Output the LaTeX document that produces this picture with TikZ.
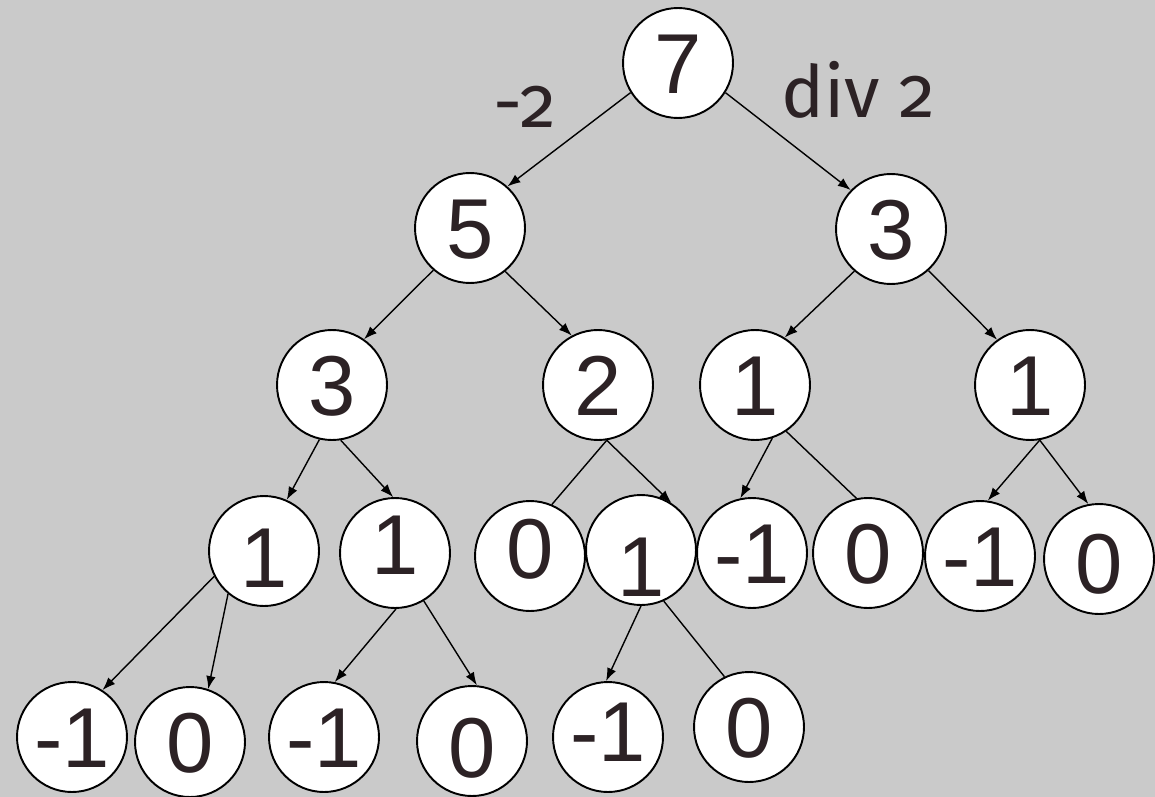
\documentclass[tikz,border=0pt]{standalone}
\usepackage{fontspec}
\setmainfont{Liberation Sans}
\newfontfamily\labelfont[Numbers=OldStyle]{Fira Sans}
\usetikzlibrary{arrows.meta}
\definecolor{bgc}{RGB}{202,202,202}
\definecolor{ink}{RGB}{44,34,37}
\tikzset{
  num/.style={circle, draw=black, line width=1.1pt, fill=white, minimum size=2.2cm, inner sep=0pt,
    text=ink, font=\fontsize{48.4pt}{50pt}\selectfont, text height=1.22cm, text depth=0pt},
  edge/.style={line width=0.8pt, draw=black, -{Latex[length=0.26cm,width=0.19cm]}},
  plain/.style={line width=0.8pt, draw=black},
  oplabel/.style={text=ink, font=\labelfont\fontsize{41pt}{43pt}\selectfont, anchor=base, inner sep=0pt}
}
\newcommand{\up}[2]{\raisebox{#1}{#2}}
\begin{document}
\begin{tikzpicture}[x=0.02cm, y=-0.02cm]
\fill[bgc] (0,0) rectangle (1155,797);
\useasboundingbox (0,0) rectangle (1155,797);
% level 1
\node[num] (n7) at (678,63) {7};
% level 2
\node[num] (n5) at (470,228) {5};
\node[num] (n3r) at (891,229) {3};
% level 3
\node[num] (n3l) at (332,385) {3};
\node[num] (n2) at (598,385) {2};
\node[num] (n1l) at (755,385) {1};
\node[num] (n1r) at (1030,385) {1};
% level 4
\node[num] (a1) at (264,551) {\up{-0.12cm}{1}};
\node[num] (a2) at (395,553) {\up{0.18cm}{1}};
\node[num] (a3) at (530,556) {\up{0.16cm}{0}};
\node[num] (a4) at (641,550) {\up{-0.32cm}{1}};
\node[num] (a5) at (752,553) {-1};
\node[num] (a6) at (868,553) {0};
\node[num] (a7) at (980,556) {-1};
\node[num] (a8) at (1099,559) {\up{-0.08cm}{0}};
% level 5
\node[num] (b1) at (72,737) {-1};
\node[num] (b2) at (190,742) {0};
\node[num] (b3) at (324,737) {-1};
\node[num] (b4) at (472,741) {\up{-0.12cm}{0}};
\node[num] (b5) at (608,737) {\up{0.12cm}{-1}};
\node[num] (b6) at (749,727) {0};
% labels
\node[oplabel] (lm) at (525,128) {-2};
\node[oplabel] (ld) at (858,118) {div 2};
% edges
\draw[edge] (n7.212) -- (n5.48);
\draw[edge] (n7.328) -- (n3r.136);
\draw[edge] (n5.229) -- (n3l.55);
\draw[edge] (n5.-51) -- (n2.118);
\draw[edge] (n3r.229) -- (n1l.58);
\draw[edge] (n3r.-48) -- (n1r.126);
\draw[edge] (n3l.257) -- (a1.66);
\draw[edge] (n3l.-81) -- (a2.92);
\draw[plain] (n2.-81) -- (a3.67);
\draw[edge] (n2.-81) -- (a4.57);
\draw[edge] (n1l.-72) -- (a5.102);
\draw[plain] (n1l.-56) -- (a6.102);
\draw[edge] (n1r.-80) -- (a7.82);
\draw[edge] (n1r.-80) -- (a8.101);
\draw[edge] (a1.207) -- (b1.57);
\draw[edge] (a1.230) -- (b2.71);
\draw[edge] (a2.-89) -- (b3.79);
\draw[edge] (a2.-59) -- (b4.85);
\draw[edge] (a4.-90) -- (b5.92);
\draw[plain] (a4.-66) -- (b6.116);
\end{tikzpicture}
\end{document}
